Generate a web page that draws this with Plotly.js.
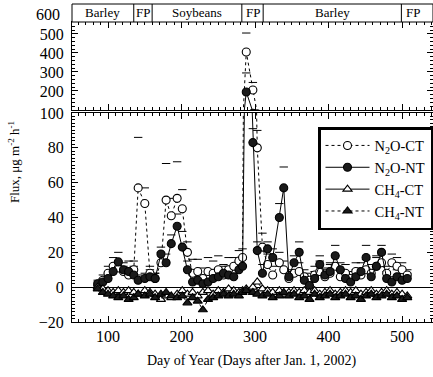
<!DOCTYPE html>
<html>
<head>
<meta charset="utf-8">
<script src="https://cdn.plot.ly/plotly-3.0.1.min.js"></script>
<style>html,body{margin:0;padding:0;background:#fff;}#chart{width:433px;height:377px;}</style>
</head>
<body>
<div id="chart"></div>
<script>
// ---- data ----
var days = [86,93,100,107,114,121,128,135,141,150,157,164,172,179,186,194,201,208,215,222,229,236,243,250,257,264,271,278,283,288,297,303,310,317,324,333,339,346,353,360,367,374,381,388,395,402,409,416,423,430,437,444,451,458,465,472,479,486,493,500,507];
var n2oCT = [1,4,8,12,11,9,7,10,57,48,8,5,14,50,41,51,45,20,8,9,5,9,8,10,7,10,12,15,17,405,205,80,23,13,7,14,10,5,8,9,6,4,7,9,6,8,12,6,8,5,9,7,10,8,12,14,8,14,12,10,7];
var n2oCTse = [2,3,4,5,4,3,4,5,29,9,4,3,6,21,10,21,11,6,8,7,6,8,7,8,6,7,5,6,5,100,40,10,8,6,5,6,5,4,6,5,4,4,5,6,4,5,6,4,5,4,5,4,6,5,6,5,4,5,5,4,3];
var n2oNT = [2,3,5,9,14.5,10,9,7,4,5,6,5,19,14,25,35,23,10,3,4,2,3,5,6,8,7,6,10,12,195,83,21,8,22,17,40,57,6,14,20,4,1,5,13,7,9,18,10,5,3,6,9,17,6,12,20,5,3,6,4,5];
var n2oNTse = [2,2,3,4,5.5,4,6,5,3,3,4,3,4,5,5,7,9,5,4,4,3,4,5,5,4,5,4,5,4,100,8,5,5,4,5,8,12,4,4,6,3,3,4,5,4,5,6,4,4,3,4,5,7,4,5,4,4,3,4,4,3];
var ch4CT = [0,-1,-2,-3,-2,-3,-2,-3,-4,-2,-3,-4,-7,-5,-6,-4,-2,-4,-3,-5,-3,-2,-4,-2,-3,-1,-2,-3,-2,-1,0,3,-1,-2,-3,-2,-4,-3,-2,-3,-2,-3,-2,-4,-3,-2,-4,-3,-2,-3,-2,-4,-3,-2,-4,-3,-2,-4,-3,-4,-5];
var ch4NT = [-1,-3,-4,-5,-6,-5,-7,-6,-4,-5,-4,-6,-4,-3,-5,-6,-5,-9,-6,-8,-13,-7,-6,-5,-4,-5,-4,-5,-3,-2,-3,-4,-5,-4,-6,-5,-3,-5,-4,-6,-5,-7,-4,-6,-5,-4,-6,-5,-4,-6,-5,-7,-5,-4,-6,-5,-4,-6,-5,-7,-6];
var seriesNames = ['N<sub>2</sub>O-CT','N<sub>2</sub>O-NT','CH<sub>4</sub>-CT','CH<sub>4</sub>-NT'];
var stageNames = ['Barley','FP','Soybeans','FP','Barley','FP'];
var stageStart = [51,135,160,282,311,499];
var stageEnd   = [135,160,282,311,499,542];
var xTickVals = [100,200,300,400,500];
var yLowTicks = [-20,0,20,40,60,80,100];
var yHighTicks = [200,300,400,500,600];
var xTitle = 'Day of Year (Days after Jan. 1, 2002)';
var yTitle = 'Flux, \u03bcg m<sup>-2</sup> h<sup>-1</sup>';

// ---- build ----
var FONT = 'Liberation Serif, Times New Roman, serif';
var styles = [
  {y:n2oCT, se:n2oCTse, dash:'dot', sym:'circle', fill:'#ffffff', size:8},
  {y:n2oNT, se:n2oNTse, dash:'solid', sym:'circle', fill:'#1a1a1a', size:8},
  {y:ch4CT, se:null, dash:'solid', sym:'triangle-up', fill:'#ffffff', size:8},
  {y:ch4NT, se:null, dash:'dot', sym:'triangle-up', fill:'#1a1a1a', size:8}
];
var traces = [];
[['x','y',true],['x2','y2',false]].forEach(function(ax){
  // standard-error caps (upper); in the scanned figure only the caps show
  styles.forEach(function(s){
    if (!s.se) return;
    traces.push({type:'scatter', mode:'markers', x:days, y:s.y.map(function(v,j){return v + s.se[j];}),
      xaxis:ax[0], yaxis:ax[1], showlegend:false, hoverinfo:'skip',
      marker:{symbol:'line-ew', size:6, color:'#000', line:{color:'#000', width:1}}});
  });
  styles.forEach(function(s,i){
    traces.push({
      type:'scatter', mode:'lines+markers', x:days, y:s.y,
      name:seriesNames[i], showlegend:ax[2], legendrank:i+1,
      xaxis:ax[0], yaxis:ax[1],
      line:{color:'#000', width:1, dash:s.dash},
      marker:{symbol:s.sym, size:s.size, color:s.fill, line:{color:'#000', width:1.1}},
      hoverinfo:'skip'
    });
  });
});

var H = 377, T = 4, B = 55, L = 72;
var plotH = H - T - B;
function py(p){ return (H - B - p) / plotH; }

var shapes = [], annotations = [];
// crop band
shapes.push({type:'rect', xref:'paper', yref:'paper', x0:0, x1:1, y0:py(22), y1:py(4), line:{color:'#000', width:1}, fillcolor:'#fff', layer:'above'});
for (var k=1;k<stageStart.length;k++){
  shapes.push({type:'line', xref:'x', yref:'paper', x0:stageStart[k], x1:stageStart[k], y0:py(22), y1:py(4), line:{color:'#000', width:1}});
}
stageNames.forEach(function(nm,k){
  var last = (k === stageNames.length-1);
  annotations.push({xref:'x', yref:'paper', x: last ? stageStart[k]+3 : (stageStart[k]+stageEnd[k])/2, xanchor: last ? 'left':'center',
    y:py(13), yanchor:'middle', text:nm, showarrow:false, font:{family:FONT, size:13, color:'#000'}});
});
// 600 tick label above the top panel
annotations.push({xref:'paper', yref:'paper', x:-10/ (433-L), xanchor:'right', y:py(15), yanchor:'middle', text:String(yHighTicks[4]), showarrow:false, font:{family:FONT, size:16, color:'#000'}});
// axis titles
annotations.push({xref:'paper', yref:'paper', x:(14-L)/(433-L), y:py(162), xanchor:'center', yanchor:'middle', textangle:-90, text:yTitle, showarrow:false, font:{family:FONT, size:13, color:'#000'}});
annotations.push({xref:'paper', yref:'paper', x:(252-L)/(433-L), y:py(361), xanchor:'center', yanchor:'middle', text:xTitle, showarrow:false, font:{family:FONT, size:14, color:'#000'}});

var axX = {range:[51,542], tickvals:xTickVals, ticks:'inside', ticklen:6, tickcolor:'#000',
  minor:{dtick:10, tick0:0, ticks:'inside', ticklen:3, tickcolor:'#000'},
  showline:true, linecolor:'#000', linewidth:1, mirror:'ticks', showgrid:false, zeroline:false,
  tickfont:{family:FONT, size:16, color:'#000'}};
var layout = {
  width:433, height:377, margin:{l:L, r:0, t:T, b:B},
  paper_bgcolor:'#fff', plot_bgcolor:'#fff', showlegend:true,
  xaxis: Object.assign({}, axX, {anchor:'y', domain:[0,1]}),
  xaxis2: Object.assign({}, axX, {anchor:'y2', domain:[0,1], matches:'x', showticklabels:false}),
  yaxis: {domain:[0, py(113)], range:[-20,100], tickvals:yLowTicks, ticks:'inside', ticklen:6, tickcolor:'#000',
    minor:{dtick:2, tick0:0, ticks:'inside', ticklen:3, tickcolor:'#000'},
    showline:true, linecolor:'#000', linewidth:1, mirror:'ticks', showgrid:false,
    zeroline:true, zerolinecolor:'#000', zerolinewidth:1, anchor:'x',
    tickfont:{family:FONT, size:16, color:'#000'}, ticklabelstandoff:4},
  yaxis2: {domain:[py(110), py(22)], range:[100,563], tickvals:yHighTicks.slice(0,4), ticks:'inside', ticklen:6, tickcolor:'#000',
    minor:{dtick:20, tick0:0, ticks:'inside', ticklen:3, tickcolor:'#000'},
    showline:true, linecolor:'#000', linewidth:1, mirror:'ticks', showgrid:false, zeroline:false, anchor:'x2',
    tickfont:{family:FONT, size:16, color:'#000'}, ticklabelstandoff:4},
  legend:{x:(318-L)/(433-L), y:py(127), xanchor:'left', yanchor:'top', bgcolor:'#fff', bordercolor:'#000', borderwidth:2.5,
    font:{family:FONT, size:14.5, color:'#000'}, itemwidth:44, tracegroupgap:0},
  shapes:shapes, annotations:annotations
};
Plotly.newPlot('chart', traces, layout, {staticPlot:true, displayModeBar:false});
</script>
</body>
</html>
